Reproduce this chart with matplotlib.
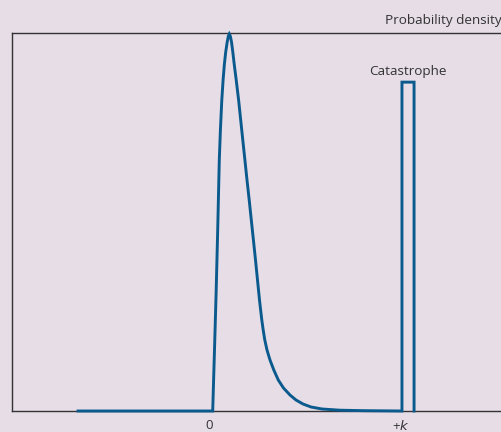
import matplotlib
matplotlib.use("Agg")
import matplotlib.pyplot as plt

plt.rcParams['font.family'] = ['Open Sans', 'DejaVu Sans']

# x in units of k (0 at the origin, 1 at +k), y as share of the plot height
curve_x = [-0.682, 0.0193, 0.0286, 0.0375, 0.0453, 0.0536, 0.0594, 0.0667,
           0.0734, 0.0797, 0.0870, 0.0948, 0.1010, 0.1057, 0.1109, 0.1172,
           0.1240, 0.1318, 0.1417, 0.1542, 0.1651, 0.1760, 0.1870, 0.1979,
           0.2094, 0.2203, 0.2313, 0.2422, 0.2526, 0.2630, 0.2750, 0.2823,
           0.2906, 0.3021, 0.3177, 0.3375, 0.3609, 0.3880, 0.4219, 0.4531,
           0.4896, 0.5313, 0.5885, 0.6823, 0.8125, 1.005]
curve_y = [0.0, 0.0, 0.1614, 0.3201, 0.4788, 0.6640, 0.7434, 0.8228,
           0.8757, 0.9153, 0.9497, 0.9762, 0.9921, 0.9974, 0.9921, 0.9762,
           0.9497, 0.9153, 0.8757, 0.8228, 0.7698, 0.7169, 0.6640, 0.6111,
           0.5582, 0.5053, 0.4524, 0.3995, 0.3466, 0.2937, 0.2407, 0.2143,
           0.1878, 0.1614, 0.1349, 0.1085, 0.0820, 0.0608, 0.0423, 0.0291,
           0.0185, 0.0106, 0.0053, 0.0021, 0.0008, 0.0]

# catastrophe spike
cat_x0 = 1.005
cat_x1 = 1.068
cat_height = 0.870

tick_pos = [0, 1]
tick_labels = ['0', '+$\\it{k}$']

bg = '#e6dde7'
blue = '#0b5a8e'
dark = '#333333'

fig = plt.figure(figsize=(5.02, 4.32), dpi=100)
fig.patch.set_facecolor(bg)
ax = fig.add_axes([12 / 502, 21 / 432, 1 - 12 / 502, 378 / 432])
ax.set_facecolor(bg)

xs = curve_x + [cat_x0, cat_x1, cat_x1]
ys = curve_y + [cat_height, cat_height, 0.0]
ax.plot(xs, ys, color=blue, lw=2.1, solid_joinstyle='miter', clip_on=False, zorder=3)

ax.set_xlim(-1.026, 1.526)
ax.set_ylim(0, 1)

for side in ['left', 'top', 'bottom']:
    ax.spines[side].set_color(dark)
    ax.spines[side].set_linewidth(1.0)
ax.spines['right'].set_visible(False)

ax.set_yticks([])
ax.set_xticks(tick_pos)
ax.set_xticklabels(tick_labels, fontsize=9.5, color=dark)
ax.tick_params(axis='x', length=0, pad=6)

ax.text((cat_x0 + cat_x1) / 2, 0.899, 'Catastrophe', ha='center', va='center',
        fontsize=9.7, color=dark)
fig.text(1.0, 1 - 24 / 432, 'Probability density', ha='right', va='baseline',
         fontsize=9.7, color=dark)

fig.savefig('out.png', dpi=100, facecolor=bg)
